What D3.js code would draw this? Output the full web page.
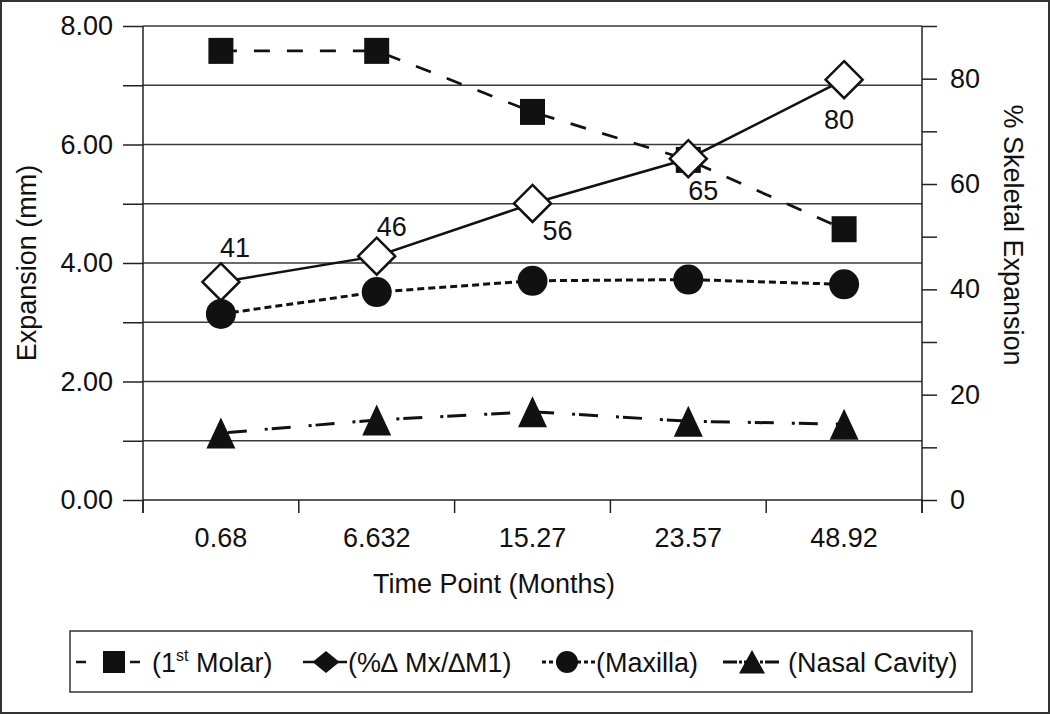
<!DOCTYPE html>
<meta charset="utf-8">
<style>
body { margin: 0; background: #fff; }
svg text { font-family: "Liberation Sans", Arial, sans-serif; fill: #111; }
.grid line { stroke: #3a3a3a; stroke-width: 1.5; }
.axis path { display: none; }
.axis line { stroke: #222; stroke-width: 1.5; }
.axis text { font-size: 27px; }
</style>
<body>
<div id="chart"></div>
<script src="https://d3js.org/d3.v7.min.js"></script>
<script>
// values
var timePoints = ["0.68", "6.632", "15.27", "23.57", "48.92"];
var molar = [7.58, 7.58, 6.55, 5.74, 4.57];          // mm, left axis
var pctSkeletal = [41.4, 46.3, 56.3, 64.8, 79.8];    // %, right axis
var pctLabels = ["41", "46", "56", "65", "80"];
var maxilla = [3.14, 3.51, 3.70, 3.72, 3.64];
var nasal = [1.13, 1.35, 1.49, 1.33, 1.28];
var leftTicks = [0, 1, 2, 3, 4, 5, 6, 7, 8];
var rightTicks = [0, 10, 20, 30, 40, 50, 60, 70, 80, 90];

var W = 1050, H = 714;
var margin = {top: 26, left: 143},
    width = 779,
    height = 474;
var fs = "27px";

var svg = d3.select("#chart").append("svg").attr("width", W).attr("height", H);

// outer frame
svg.append("rect").attr("x", 1).attr("y", 1).attr("width", W - 2).attr("height", H - 2)
  .attr("fill", "none").attr("stroke", "#333").attr("stroke-width", 2);

var g = svg.append("g").attr("transform", "translate(" + margin.left + "," + margin.top + ")");

var x = d3.scaleBand().domain(timePoints).range([0, width]);
var yL = d3.scaleLinear().domain([0, 8]).range([height, 0]);
var yR = d3.scaleLinear().domain([0, 90]).range([height, 0]);
var cx = function(i) { return x(timePoints[i]) + x.bandwidth() / 2; };

// gridlines
g.append("g").attr("class", "grid").selectAll("line")
  .data(leftTicks.filter(function(d) { return d > 0; }))
  .enter().append("line")
  .attr("x1", 0).attr("x2", width)
  .attr("y1", function(d) { return yL(d); }).attr("y2", function(d) { return yL(d); });

// left axis
g.append("g").attr("class", "axis")
  .call(d3.axisLeft(yL).tickValues(leftTicks).tickSize(20).tickPadding(10)
    .tickFormat(function(d) { return d % 2 === 0 ? d3.format(".2f")(d) : ""; }));
// right axis
g.append("g").attr("class", "axis").attr("transform", "translate(" + width + ",0)")
  .call(d3.axisRight(yR).tickValues(rightTicks).tickSize(15).tickPadding(13)
    .tickFormat(function(d) { return d % 20 === 0 ? d : ""; }));

// axis lines
var axisStroke = function(sel) { sel.attr("stroke", "#222").attr("stroke-width", 1.5); };
g.append("line").attr("x1", 0).attr("x2", 0).attr("y1", 0).attr("y2", height + 13).call(axisStroke);
g.append("line").attr("x1", width).attr("x2", width).attr("y1", 0).attr("y2", height + 13).call(axisStroke);
g.append("line").attr("x1", 0).attr("x2", width).attr("y1", height).attr("y2", height).call(axisStroke);

// category ticks between bands
var edges = timePoints.map(function(d) { return x(d); }).concat([width]);
g.selectAll(".xtick").data(edges).enter().append("line")
  .attr("x1", function(d) { return d; }).attr("x2", function(d) { return d; })
  .attr("y1", height).attr("y2", height + 13).call(axisStroke);
g.selectAll(".xlab").data(timePoints).enter().append("text")
  .attr("x", function(d) { return x(d) + x.bandwidth() / 2; })
  .attr("y", height + 47)
  .attr("text-anchor", "middle").style("font-size", fs)
  .text(function(d) { return d; });

// axis titles
svg.append("text").attr("x", 494).attr("y", 593).attr("text-anchor", "middle")
  .style("font-size", fs).text("Time Point (Months)");
svg.append("text").attr("transform", "translate(36,263) rotate(-90)").attr("text-anchor", "middle")
  .style("font-size", fs).text("Expansion (mm)");
svg.append("text").attr("transform", "translate(1004,235) rotate(90)").attr("text-anchor", "middle")
  .style("font-size", fs).text("% Skeletal Expansion");

// series lines
function drawLine(values, scale, dash, w) {
  var line = d3.line().x(function(d, i) { return cx(i); }).y(function(d) { return scale(d); });
  g.append("path").datum(values).attr("d", line).attr("fill", "none")
    .attr("stroke", "#111").attr("stroke-width", w)
    .attr("stroke-dasharray", dash);
}

var triPath = "M0,-15.5L14.5,15.5L-14.5,15.5Z";
var diaPath = "M0,-18.5L18.5,0L0,18.5L-18.5,0Z";

// nasal cavity
drawLine(nasal, yL, "3,4,19,18", 3);
g.selectAll(".tri").data(nasal).enter().append("path")
  .attr("d", triPath).attr("fill", "#111")
  .attr("transform", function(d, i) { return "translate(" + cx(i) + "," + yL(d) + ")"; });

// maxilla
drawLine(maxilla, yL, "7,4", 3);
g.selectAll(".circ").data(maxilla).enter().append("circle")
  .attr("cx", function(d, i) { return cx(i); }).attr("cy", function(d) { return yL(d); })
  .attr("r", 15).attr("fill", "#111");

// 1st molar
drawLine(molar, yL, "16,17", 2.7);
g.selectAll(".sq").data(molar).enter().append("rect")
  .attr("x", function(d, i) { return cx(i) - 12.5; }).attr("y", function(d) { return yL(d) - 13; })
  .attr("width", 25).attr("height", 26).attr("fill", "#111");

// % skeletal
drawLine(pctSkeletal, yR, null, 2.5);
g.selectAll(".dia").data(pctSkeletal).enter().append("path")
  .attr("d", diaPath).attr("fill", "#fff").attr("stroke", "#111").attr("stroke-width", 2.5)
  .attr("transform", function(d, i) { return "translate(" + cx(i) + "," + yR(d) + ")"; });

var labelOff = [[14, -34], [15, -30], [25, 27], [15, 32], [-5, 40]];
g.selectAll(".plab").data(pctLabels).enter().append("text")
  .attr("x", function(d, i) { return cx(i) + labelOff[i][0]; })
  .attr("y", function(d, i) { return yR(pctSkeletal[i]) + labelOff[i][1]; })
  .attr("dy", "0.35em").attr("text-anchor", "middle").style("font-size", fs)
  .text(function(d) { return d; });

// legend
var lg = svg.append("g");
var ly = 662;
lg.append("rect").attr("x", 70).attr("y", 631).attr("width", 902).attr("height", 61)
  .attr("fill", "#fff").attr("stroke", "#333").attr("stroke-width", 1.5);

lg.append("line").attr("x1", 76).attr("x2", 140).attr("y1", ly).attr("y2", ly)
  .attr("stroke", "#111").attr("stroke-width", 2.7).attr("stroke-dasharray", "10,17");
lg.append("rect").attr("x", 103).attr("y", ly - 11).attr("width", 22).attr("height", 22).attr("fill", "#111");
var t1 = lg.append("text").attr("x", 152).attr("y", ly + 10).style("font-size", fs);
t1.append("tspan").text("(1");
t1.append("tspan").attr("dy", -11).style("font-size", "16px").text("st");
t1.append("tspan").attr("dy", 11).text(" Molar)");

lg.append("line").attr("x1", 303).attr("x2", 347).attr("y1", ly).attr("y2", ly)
  .attr("stroke", "#111").attr("stroke-width", 2.5);
lg.append("path").attr("d", "M0,-11L13.5,0L0,11L-13.5,0Z").attr("fill", "#111")
  .attr("transform", "translate(326," + ly + ")");
lg.append("text").attr("x", 348).attr("y", ly + 10).style("font-size", fs).text("(%\u2206 Mx/\u2206M1)");

lg.append("line").attr("x1", 542).attr("x2", 595).attr("y1", ly).attr("y2", ly)
  .attr("stroke", "#111").attr("stroke-width", 3).attr("stroke-dasharray", "4,3");
lg.append("circle").attr("cx", 567).attr("cy", ly).attr("r", 11).attr("fill", "#111");
lg.append("text").attr("x", 596).attr("y", ly + 10).style("font-size", fs).text("(Maxilla)");

lg.append("line").attr("x1", 723).attr("x2", 780).attr("y1", ly).attr("y2", ly)
  .attr("stroke", "#111").attr("stroke-width", 3).attr("stroke-dasharray", "14,2,3,2");
lg.append("path").attr("d", "M0,-12L13,11.5L-13,11.5Z").attr("fill", "#111")
  .attr("transform", "translate(752," + ly + ")");
lg.append("text").attr("x", 788).attr("y", ly + 10).style("font-size", fs).text("(Nasal Cavity)");
</script>
</body>
